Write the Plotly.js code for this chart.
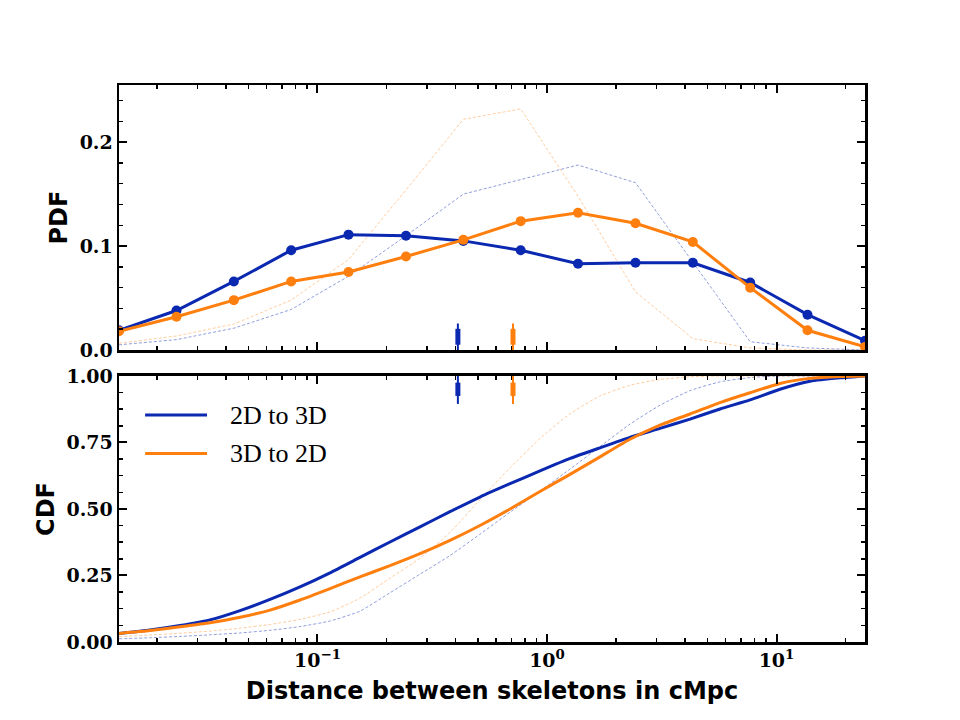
<!DOCTYPE html>
<html>
<head>
<meta charset="utf-8">
<script src="https://cdn.plot.ly/plotly-3.0.1.min.js"></script>
<style>
  html, body { margin: 0; padding: 0; background: #ffffff; }
  #chart { width: 960px; height: 720px; }
</style>
</head>
<body>
<div id="chart"></div>
<script>
// ---------------- data ----------------
// PDF panel: bin centres in cMpc
const binCenters = [0.01365, 0.0243, 0.0432, 0.0768, 0.1365, 0.243, 0.432, 0.768, 1.365, 2.43, 4.32, 7.68, 13.65, 24.3];
const pdf2Dto3D = [0.019, 0.038, 0.066, 0.096, 0.111, 0.110, 0.105, 0.096, 0.083, 0.084, 0.084, 0.065, 0.034, 0.009];
const pdf3Dto2D = [0.018, 0.032, 0.048, 0.066, 0.075, 0.090, 0.106, 0.124, 0.132, 0.122, 0.104, 0.060, 0.019, 0.003];
const pdf2Dto3DRef = [0.005, 0.010, 0.021, 0.039, 0.071, 0.110, 0.150, 0.164, 0.178, 0.161, 0.084, 0.008, 0.002, 0.0];
const pdf3Dto2DRef = [0.0065, 0.0135, 0.025, 0.048, 0.087, 0.154, 0.222, 0.232, 0.148, 0.056, 0.011, 0.002, 0.0, 0.0];

// CDF panel: sample distances in cMpc
const cdfX = [0.01365, 0.01862, 0.02518, 0.03401, 0.04597, 0.06213, 0.08392, 0.1134, 0.1532, 0.2070, 0.2797, 0.3779, 0.5105, 0.6902, 0.9318, 1.260, 1.702, 2.300, 3.107, 4.200, 5.675, 7.667, 10.36, 14.00, 18.92, 24.3];
const cdf2Dto3D = [0.032, 0.045, 0.062, 0.083, 0.118, 0.160, 0.207, 0.260, 0.318, 0.376, 0.433, 0.490, 0.545, 0.595, 0.643, 0.690, 0.730, 0.769, 0.803, 0.838, 0.876, 0.910, 0.950, 0.980, 0.993, 1.0];
const cdf3Dto2D = [0.032, 0.043, 0.057, 0.072, 0.093, 0.120, 0.158, 0.201, 0.245, 0.287, 0.332, 0.382, 0.438, 0.500, 0.566, 0.630, 0.696, 0.762, 0.815, 0.857, 0.900, 0.937, 0.972, 0.991, 0.998, 1.0];
const cdf2Dto3DRef = [0.012, 0.016, 0.021, 0.027, 0.034, 0.044, 0.058, 0.079, 0.116, 0.185, 0.255, 0.325, 0.405, 0.488, 0.567, 0.650, 0.735, 0.819, 0.890, 0.945, 0.978, 0.994, 1.0, 1.0, 1.0, 1.0];
const cdf3Dto2DRef = [0.020, 0.026, 0.033, 0.041, 0.052, 0.066, 0.085, 0.113, 0.165, 0.240, 0.315, 0.412, 0.535, 0.655, 0.765, 0.858, 0.925, 0.965, 0.987, 0.997, 1.0, 1.0, 1.0, 1.0, 1.0, 1.0];

// medians
const medians = [0.409, 0.711];
const seriesNames = ['2D to 3D', '3D to 2D'];

// tick labels
const xTickVals = [0.1, 1, 10];
const xTickText = ['10<sup>\u22121</sup>', '10<sup>0</sup>', '10<sup>1</sup>'];
const xMinorVals = [0.02,0.03,0.04,0.05,0.06,0.07,0.08,0.09,0.2,0.3,0.4,0.5,0.6,0.7,0.8,0.9,2,3,4,5,6,7,8,9,20];

// ---------------- style ----------------
const BLUE = '#0a28b0';
const ORANGE = '#ff7f0e';
const BLUE_LIGHT = 'rgba(10,40,176,0.45)';
const ORANGE_LIGHT = 'rgba(255,127,14,0.40)';
const tickFont = {family: 'DejaVu Serif', size: 19, color: '#000', weight: 700};
const titleFont = {family: 'DejaVu Sans', size: 24, color: '#000', weight: 700};

const traces = [
  // reference (dashed) PDFs
  {x: binCenters, y: pdf2Dto3DRef, xaxis: 'x2', yaxis: 'y2', mode: 'lines',
   line: {color: BLUE_LIGHT, width: 1, dash: '3px,2px'}, showlegend: false},
  {x: binCenters, y: pdf3Dto2DRef, xaxis: 'x2', yaxis: 'y2', mode: 'lines',
   line: {color: ORANGE_LIGHT, width: 1, dash: '3px,2px'}, showlegend: false},
  // PDFs
  {x: binCenters, y: pdf2Dto3D, xaxis: 'x2', yaxis: 'y2', mode: 'lines+markers', name: seriesNames[0],
   line: {color: BLUE, width: 3}, marker: {color: BLUE, size: 10}, showlegend: false},
  {x: binCenters, y: pdf3Dto2D, xaxis: 'x2', yaxis: 'y2', mode: 'lines+markers', name: seriesNames[1],
   line: {color: ORANGE, width: 3}, marker: {color: ORANGE, size: 10}, showlegend: false},
  // reference (dashed) CDFs
  {x: cdfX, y: cdf2Dto3DRef, xaxis: 'x', yaxis: 'y', mode: 'lines',
   line: {color: BLUE_LIGHT, width: 1, dash: '3px,2px', shape: 'spline', smoothing: 0.5}, showlegend: false},
  {x: cdfX, y: cdf3Dto2DRef, xaxis: 'x', yaxis: 'y', mode: 'lines',
   line: {color: ORANGE_LIGHT, width: 1, dash: '3px,2px', shape: 'spline', smoothing: 0.5}, showlegend: false},
  // CDFs
  {x: cdfX, y: cdf2Dto3D, xaxis: 'x', yaxis: 'y', mode: 'lines', name: seriesNames[0],
   line: {color: BLUE, width: 3, shape: 'spline', smoothing: 0.5}, showlegend: false},
  {x: cdfX, y: cdf3Dto2D, xaxis: 'x', yaxis: 'y', mode: 'lines', name: seriesNames[1],
   line: {color: ORANGE, width: 3, shape: 'spline', smoothing: 0.5}, showlegend: false}
];

// median markers (thin line + thick centre), drawn in data x
const colors = [BLUE, ORANGE];
const shapes = [];
medians.forEach((m, i) => {
  const c = colors[i];
  // top panel, at the bottom edge
  shapes.push({type: 'line', xref: 'x2', yref: 'y2 domain', x0: m, x1: m, y0: 0, y1: 0.10, line: {color: c, width: 2}});
  shapes.push({type: 'line', xref: 'x2', yref: 'y2 domain', x0: m, x1: m, y0: 0.02, y1: 0.08, line: {color: c, width: 5}});
  // bottom panel, at the top edge
  shapes.push({type: 'line', xref: 'x', yref: 'y domain', x0: m, x1: m, y0: 0.895, y1: 1.0, line: {color: c, width: 2}});
  shapes.push({type: 'line', xref: 'x', yref: 'y domain', x0: m, x1: m, y0: 0.925, y1: 0.975, line: {color: c, width: 5}});
});

// manual legend (line samples) in the CDF panel
const legendRows = [0.853, 0.709];
legendRows.forEach((yy, i) => {
  shapes.push({type: 'line', xref: 'x domain', yref: 'y domain', x0: 0.035, x1: 0.118, y0: yy, y1: yy,
               line: {color: colors[i], width: 3}});
});
const annotations = legendRows.map((yy, i) => ({
  xref: 'x domain', yref: 'y domain', x: 0.146, y: yy, xanchor: 'left', yanchor: 'middle',
  text: seriesNames[i], showarrow: false,
  font: {family: 'Liberation Serif', size: 26, color: '#000'}
}));

const xCommon = {
  type: 'log',
  range: [Math.log10(0.01365), Math.log10(24.3)],
  tickmode: 'array', tickvals: xTickVals, ticktext: xTickText,
  ticks: 'inside', ticklen: 8, tickwidth: 2, tickcolor: '#000',
  minor: {tickmode: 'array', tickvals: xMinorVals, ticks: 'inside', ticklen: 4, tickwidth: 1.5, tickcolor: '#000', showgrid: false},
  showline: true, linewidth: 2.5, linecolor: '#000', mirror: 'allticks',
  showgrid: false, zeroline: false, tickfont: tickFont
};

const layout = {
  width: 960, height: 720,
  paper_bgcolor: '#ffffff', plot_bgcolor: '#ffffff',
  margin: {l: 119, r: 95, t: 85, b: 78},
  showlegend: false,
  xaxis: Object.assign({}, xCommon, {
    anchor: 'y',
    title: {text: 'Distance between skeletons in cMpc', font: titleFont, standoff: 12}
  }),
  xaxis2: Object.assign({}, xCommon, {anchor: 'y2', matches: 'x', showticklabels: false}),
  yaxis: {
    anchor: 'x', domain: [0, 0.4776], range: [0, 1],
    tickmode: 'linear', tick0: 0, dtick: 0.25, tickformat: '.2f',
    ticks: 'inside', ticklen: 8, tickwidth: 2, tickcolor: '#000',
    minor: {dtick: 0.0625, tick0: 0, ticks: 'inside', ticklen: 4, tickwidth: 1.5, tickcolor: '#000', showgrid: false},
    showline: true, linewidth: 2.5, linecolor: '#000', mirror: 'allticks',
    showgrid: false, zeroline: false, tickfont: tickFont,
    title: {text: 'CDF', font: titleFont, standoff: 5}
  },
  yaxis2: {
    anchor: 'x2', domain: [0.5242, 1], range: [0, 0.255],
    tickmode: 'linear', tick0: 0, dtick: 0.1, tickformat: '.1f',
    ticks: 'inside', ticklen: 8, tickwidth: 2, tickcolor: '#000',
    minor: {dtick: 0.02, tick0: 0, ticks: 'inside', ticklen: 4, tickwidth: 1.5, tickcolor: '#000', showgrid: false},
    showline: true, linewidth: 2.5, linecolor: '#000', mirror: 'allticks',
    showgrid: false, zeroline: false, tickfont: tickFont,
    title: {text: 'PDF', font: titleFont, standoff: 5}
  },
  shapes: shapes,
  annotations: annotations
};

Plotly.newPlot('chart', traces, layout, {staticPlot: true, displayModeBar: false});
</script>
</body>
</html>
